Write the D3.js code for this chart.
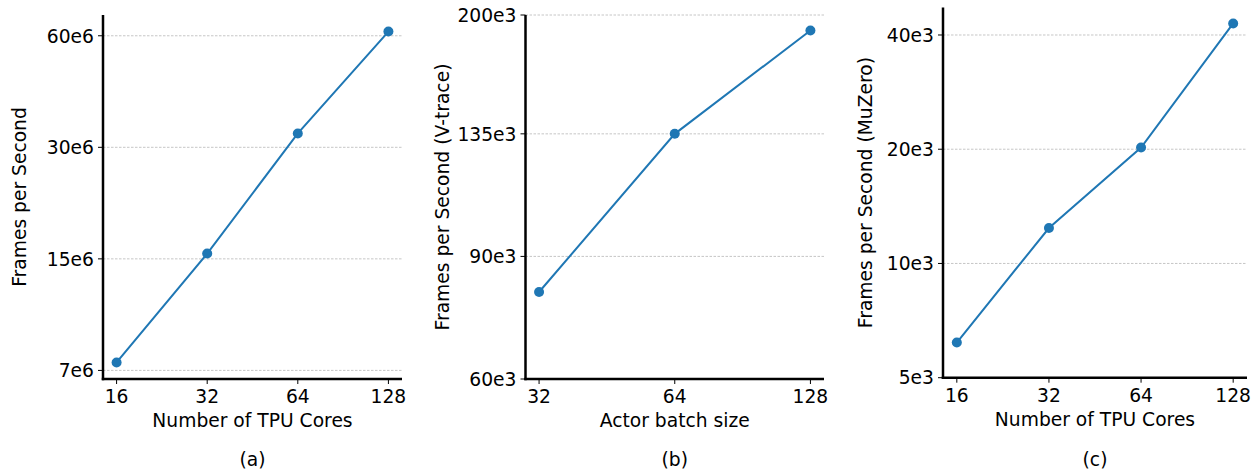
<!DOCTYPE html>
<html>
<head>
<meta charset="utf-8">
<script src="https://cdn.jsdelivr.net/npm/d3@7"></script>
<style>
    body { margin: 0; background: #fff; }
    svg { font-family: "DejaVu Sans", sans-serif; }
    .grid line { stroke: #b8b8b8; stroke-width: 0.8; stroke-dasharray: 2.5,1.5; }
    .spine { stroke: #000; stroke-width: 2.5; }
    .tick-mark { stroke: #000; stroke-width: 1; }
    .tick-label { font-size: 18.7px; fill: #000; }
    .axis-label { font-size: 18.7px; fill: #000; }
</style>
</head>
<body>
<svg id="chart" width="1260" height="475"></svg>
<script>
// (a) scaling with TPU cores
const coresA = [16, 32, 64, 128];
const fpsA = [7.88e6, 15.5e6, 32.7e6, 61.6e6];
const yTicksA = [7.5e6, 15e6, 30e6, 60e6];
const yLabelsA = ["7e6", "15e6", "30e6", "60e6"];

// (b) actor batch size, V-trace
const batchB = [32, 64, 128];
const fpsB = [80e3, 135e3, 190e3];
const yTicksB = [60e3, 90e3, 135e3, 200e3];
const yLabelsB = ["60e3", "90e3", "135e3", "200e3"];

// (c) scaling with TPU cores, MuZero
const coresC = [16, 32, 64, 128];
const fpsC = [6.19e3, 12.4e3, 20.2e3, 42.9e3];
const yTicksC = [5e3, 10e3, 20e3, 40e3];
const yLabelsC = ["5e3", "10e3", "20e3", "40e3"];

const svg = d3.select("#chart");
const blue = "#1f77b4";

// matplotlib style log margin (5% of the log range)
function logPad(ext, frac) {
    let r = Math.log2(ext[1] / ext[0]) * frac;
    return [ext[0] / Math.pow(2, r), ext[1] * Math.pow(2, r)];
}

function drawPanel(p) {
    let g = svg.append("g");
    let xDom = logPad(d3.extent(p.xs), 0.05);
    let yDom = p.yDom || logPad(d3.extent(p.ys), 0.05);
    if (p.yMin) yDom[0] = p.yMin;

    let x = d3.scaleLog().base(2).domain(xDom).range([p.left, p.right]);
    let y = d3.scaleLog().domain(yDom).range([p.bottom, p.top]);

    // horizontal dashed grid
    g.append("g").attr("class", "grid").selectAll("line")
        .data(p.yTicks).enter().append("line")
        .attr("x1", p.left).attr("x2", p.right)
        .attr("y1", d => y(d)).attr("y2", d => y(d));

    // the series
    let line = d3.line().x(d => x(d[0])).y(d => y(d[1]));
    let pts = p.xs.map((v, i) => [v, p.ys[i]]);
    g.append("path").datum(pts)
        .attr("d", line).attr("fill", "none")
        .attr("stroke", blue).attr("stroke-width", 2);
    g.selectAll("circle").data(pts).enter().append("circle")
        .attr("cx", d => x(d[0])).attr("cy", d => y(d[1]))
        .attr("r", 5).attr("fill", blue);

    // y ticks
    p.yTicks.forEach(function (t, i) {
        g.append("line").attr("class", "tick-mark")
            .attr("x1", p.left - 5).attr("x2", p.left)
            .attr("y1", y(t)).attr("y2", y(t));
        g.append("text").attr("class", "tick-label")
            .attr("x", p.left - 9).attr("y", y(t)).attr("dy", "0.36em")
            .attr("text-anchor", "end").text(p.yLabels[i]);
    });

    // x ticks
    p.xs.forEach(function (t) {
        g.append("line").attr("class", "tick-mark")
            .attr("x1", x(t)).attr("x2", x(t))
            .attr("y1", p.bottom).attr("y2", p.bottom + 5);
        g.append("text").attr("class", "tick-label")
            .attr("x", x(t)).attr("y", p.bottom + 24)
            .attr("text-anchor", "middle").text(t);
    });

    // spines (left and bottom only)
    g.append("line").attr("class", "spine")
        .attr("x1", p.left).attr("x2", p.left)
        .attr("y1", p.top).attr("y2", p.bottom + 1.25);
    g.append("line").attr("class", "spine")
        .attr("x1", p.left - 1.25).attr("x2", p.right)
        .attr("y1", p.bottom).attr("y2", p.bottom);

    let cx = (p.left + p.right) / 2;
    let cy = (p.top + p.bottom) / 2;
    g.append("text").attr("class", "axis-label")
        .attr("x", cx).attr("y", p.bottom + 48)
        .attr("text-anchor", "middle").text(p.xTitle);
    g.append("text").attr("class", "axis-label")
        .attr("transform", "translate(" + p.yTitleX + "," + cy + ") rotate(-90)")
        .attr("text-anchor", "middle").text(p.yTitle);
    g.append("text").attr("class", "axis-label")
        .attr("x", cx).attr("y", 466)
        .attr("text-anchor", "middle").text(p.caption);
}

drawPanel({
    xs: coresA, ys: fpsA, yTicks: yTicksA, yLabels: yLabelsA,
    left: 103, right: 402, top: 15, bottom: 379,
    xTitle: "Number of TPU Cores", yTitle: "Frames per Second",
    yTitleX: 26, caption: "(a)"
});

drawPanel({
    xs: batchB, ys: fpsB, yTicks: yTicksB, yLabels: yLabelsB,
    yDom: [60e3, 200e3],
    left: 525.5, right: 824, top: 15, bottom: 379,
    xTitle: "Actor batch size", yTitle: "Frames per Second (V-trace)",
    yTitleX: 449, caption: "(b)"
});

drawPanel({
    xs: coresC, ys: fpsC, yTicks: yTicksC, yLabels: yLabelsC,
    yMin: 5e3,
    left: 943, right: 1247, top: 7.5, bottom: 377.7,
    xTitle: "Number of TPU Cores", yTitle: "Frames per Second (MuZero)",
    yTitleX: 872, caption: "(c)"
});
</script>
</body>
</html>
